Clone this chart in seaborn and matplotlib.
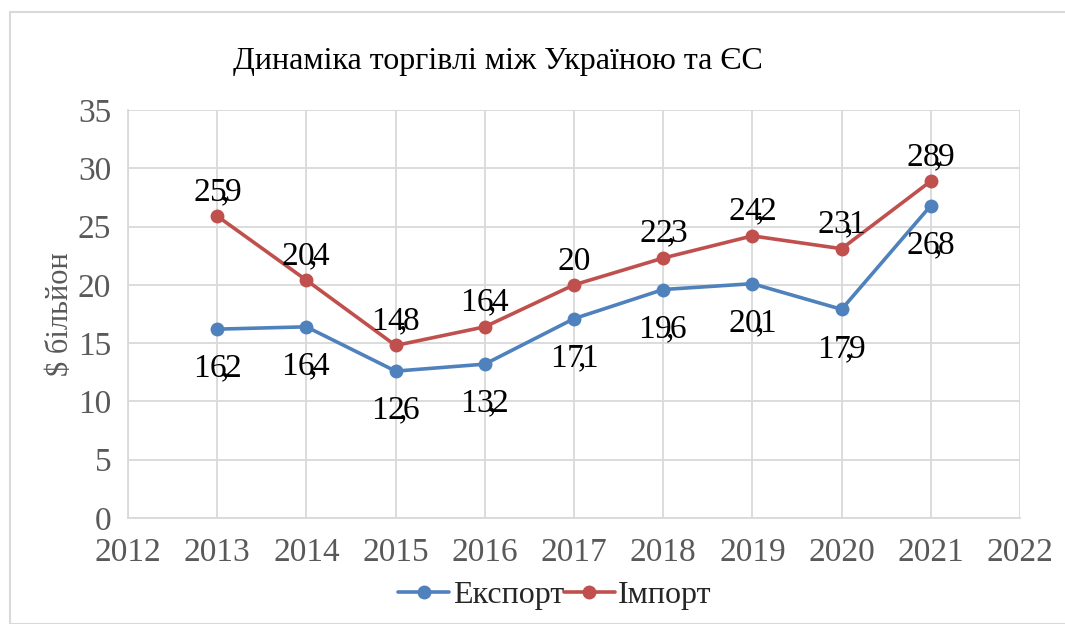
import pandas as pd
import matplotlib.pyplot as plt
import seaborn as sns
from matplotlib.patches import Rectangle
from matplotlib.lines import Line2D

# Дані
years = [2013, 2014, 2015, 2016, 2017, 2018, 2019, 2020, 2021]
eksport = [16.2, 16.4, 12.6, 13.2, 17.1, 19.6, 20.1, 17.9, 26.8]
import_ = [25.9, 20.4, 14.8, 16.4, 20.0, 22.3, 24.2, 23.1, 28.9]
series_names = ['Експорт', 'Імпорт']
colors = ['#4F81BD', '#C0504D']
x_ticks = list(range(2012, 2023))
y_ticks = list(range(0, 36, 5))

sns.set_theme(style="white")
plt.rcParams['font.family'] = ['Liberation Serif', 'DejaVu Serif']
plt.rcParams['mathtext.fontset'] = 'custom'
plt.rcParams['mathtext.rm'] = 'Liberation Serif'

df = pd.DataFrame({
    'year': years * 2,
    'value': eksport + import_,
    'series': [series_names[0]] * len(years) + [series_names[1]] * len(years),
})

fig = plt.figure(figsize=(10.65, 6.24), dpi=100)
ax = fig.add_axes([128 / 1065, 1 - 518 / 624, (1020 - 128) / 1065, (518 - 110) / 624])

sns.lineplot(data=df, x='year', y='value', hue='series', palette=colors,
             marker='o', markersize=10, markeredgewidth=0, linewidth=2.6,
             ax=ax, legend=False)

ax.set_xlim(2012, 2022)
ax.set_ylim(0, 35)
ax.set_xticks(x_ticks)
ax.set_yticks(y_ticks)
ax.grid(True, color='#D9D9D9', linewidth=1.3)
ax.set_axisbelow(True)
for s in ['top', 'right']:
    ax.spines[s].set_visible(False)
for s in ['left', 'bottom']:
    ax.spines[s].set_color('#D9D9D9')
    ax.spines[s].set_linewidth(1.3)
ax.tick_params(axis='both', length=0, labelsize=24, labelcolor='#595959')
ax.tick_params(axis='x', pad=14)
ax.tick_params(axis='y', pad=12)
ax.set_xlabel('')
ax.set_ylabel('$ більйон', fontsize=22, color='#595959', labelpad=2)


def label(x, y, v, dy):
    # кома «наїжджає» на цифри, як у вихідному рисунку
    s = f'{v:.1f}'.rstrip('0').rstrip('.')
    if '.' in s:
        a, b = s.split('.')
        s = r'$\mathregular{' + a + r'\!,\!\!' + b + '}$'
    ax.annotate(s, (x, y), xytext=(0, dy), textcoords='offset points',
                ha='center', va='baseline', fontsize=24, color='black')


for x, v in zip(years, import_):
    label(x, v, v, 11)
for x, v in zip(years, eksport):
    label(x, v, v, -35)

fig.text(498 / 1065, 1 - 62 / 624, 'Динаміка торгівлі між Україною та ЄС',
         ha='center', va='center', fontsize=23, color='black')

handles = [Line2D([0], [0], color=c, linewidth=2.6, marker='o', markersize=10,
                  markeredgewidth=0) for c in colors]
fig.legend(handles, series_names, loc='center', bbox_to_anchor=(555 / 1065, 1 - 595 / 624),
           ncol=2, frameon=False, fontsize=23, handlelength=1.6, handletextpad=0.1,
           columnspacing=0.0)

fig.patches.append(Rectangle((10 / 1065, 0), 1.2, 1 - 12 / 624, transform=fig.transFigure,
                             fill=False, edgecolor='#D9D9D9', linewidth=1.5))

fig.savefig('out.png', dpi=100)
